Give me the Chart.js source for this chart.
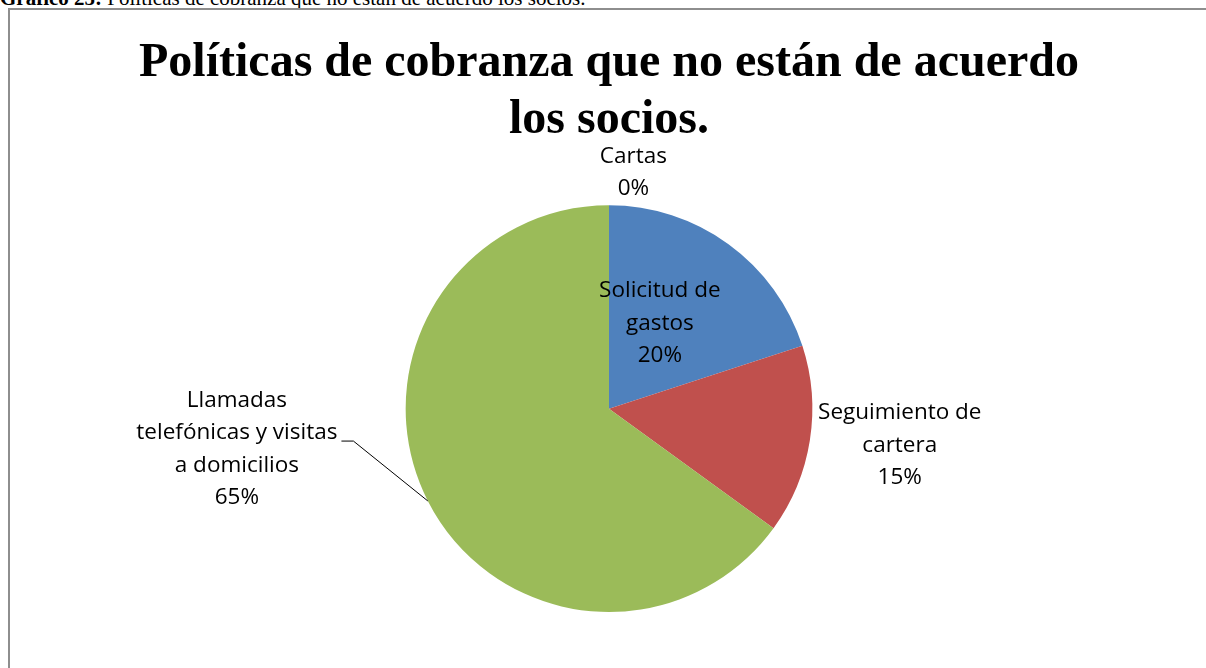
<!DOCTYPE html>
<html>
<head>
<meta charset="utf-8">
<script src="https://cdn.jsdelivr.net/npm/chart.js@4"></script>
<style>
body { margin: 0; background: #fff; overflow: hidden; }
#caption { position: absolute; left: 0; top: -14px; font-family: "Liberation Serif", serif; font-size: 21px; white-space: nowrap; color: #000; }
#frame { position: absolute; left: 8px; top: 8px; width: 1300px; height: 700px; border-left: 2px solid #8e8e8e; border-top: 2px solid #8e8e8e; }
#wrap { position: absolute; left: 0; top: 0; width: 1206px; height: 668px; }
</style>
</head>
<body>
<div id="caption"><b>Gráfico 25:</b> Políticas de cobranza que no están de acuerdo los socios.</div>
<div id="frame"></div>
<div id="wrap"><canvas id="chart"></canvas></div>
<script>
const categories = ['Solicitud de gastos', 'Seguimiento de cartera', 'Llamadas telefónicas y visitas a domicilios', 'Cartas'];
const percentages = [20, 15, 65, 0];
const labelLines = [['Solicitud de', 'gastos'], ['Seguimiento de', 'cartera'], ['Llamadas', 'telefónicas y visitas', 'a domicilios'], ['Cartas']];
const colors = ['#4F81BD', '#C0504D', '#9BBB59', '#8064A2'];

// label anchor, in pie radii from the centre
const labelOffsets = [[0.25, -0.42], [1.43, 0.18], [-1.83, 0.2], [0.12, -1.16]];

const pieLabels = {
    id: 'pieLabels',
    afterDatasetsDraw(chart) {
        const ctx = chart.ctx;
        const arcs = chart.getDatasetMeta(0).data;
        ctx.save();
        ctx.font = '22.5px "Open Sans"';
        ctx.fillStyle = '#000';
        ctx.textAlign = 'center';
        ctx.textBaseline = 'middle';
        const lh = 32.5;
        arcs.forEach((arc, i) => {
            const r = arc.outerRadius;
            const lines = [...labelLines[i], percentages[i] + '%'];
            const cx = arc.x + labelOffsets[i][0] * r;
            const cy = arc.y + labelOffsets[i][1] * r;
            const top = cy - (lines.length - 1) * lh / 2;
            lines.forEach((line, k) => ctx.fillText(line, cx, top + k * lh));

            if (i === 2) {
                // leader line to the big slice
                const w = ctx.measureText(lines[1]).width;
                const ly = top + lh + 8;
                const x0 = cx + w / 2 + 4;
                const mid = (arc.startAngle + arc.endAngle) / 2;
                const ex = arc.x + Math.cos(mid) * r;
                const ey = arc.y + Math.sin(mid) * r;
                ctx.beginPath();
                ctx.strokeStyle = '#000';
                ctx.lineWidth = 1;
                ctx.moveTo(x0, ly);
                ctx.lineTo(x0 + 12, ly);
                ctx.lineTo(ex, ey);
                ctx.stroke();
            }
        });
        ctx.restore();
    }
};

new Chart(document.getElementById('chart'), {
    type: 'pie',
    data: {
        labels: categories,
        datasets: [{
            data: percentages,
            backgroundColor: colors,
            borderWidth: 0
        }]
    },
    options: {
        responsive: true,
        maintainAspectRatio: false,
        animation: false,
        layout: { padding: { left: 12, right: 0, top: 0, bottom: 56 } },
        plugins: {
            legend: { display: false },
            tooltip: { enabled: false },
            title: {
                display: true,
                text: ['Políticas de cobranza que no están de acuerdo', 'los socios.'],
                color: '#000',
                font: { family: 'Liberation Serif', size: 48, weight: 'bold', lineHeight: 1.17 },
                padding: { top: 36, bottom: 57 }
            }
        }
    },
    plugins: [pieLabels]
});
</script>
</body>
</html>
